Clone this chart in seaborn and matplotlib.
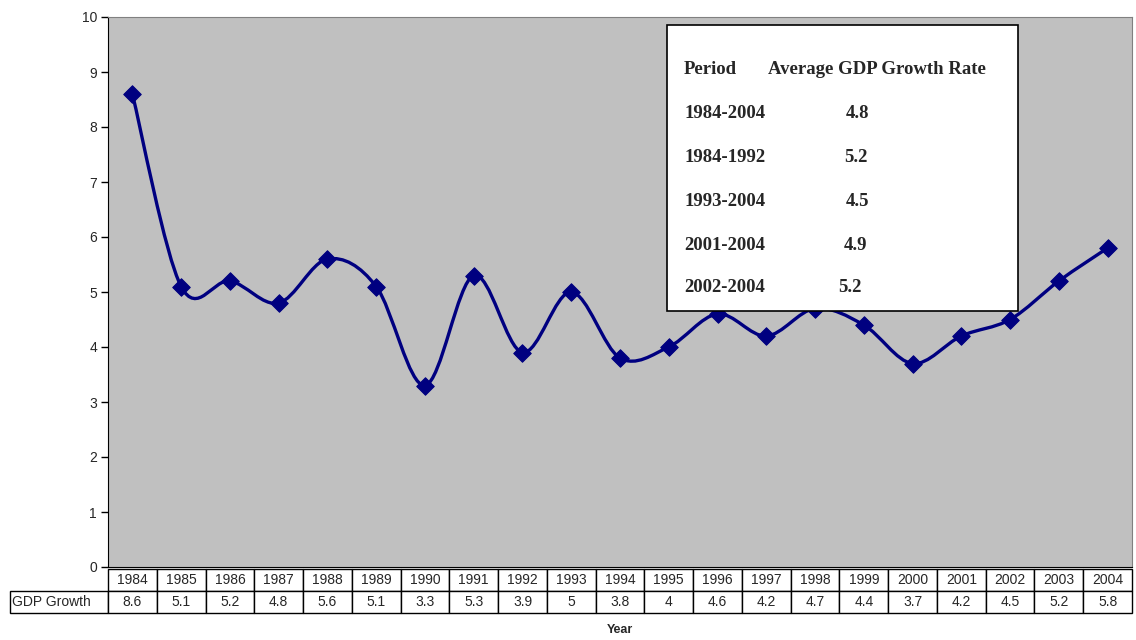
import numpy as np
import pandas as pd
import matplotlib
matplotlib.use("Agg")
import matplotlib.pyplot as plt
import seaborn as sns
from matplotlib.path import Path
from matplotlib.patches import PathPatch, Rectangle

# Data
years = [str(y) for y in range(1984, 2005)]
growth = [8.6, 5.1, 5.2, 4.8, 5.6, 5.1, 3.3, 5.3, 3.9, 5.0, 3.8,
          4.0, 4.6, 4.2, 4.7, 4.4, 3.7, 4.2, 4.5, 5.2, 5.8]
growth_labels = ['8.6', '5.1', '5.2', '4.8', '5.6', '5.1', '3.3', '5.3', '3.9', '5',
                 '3.8', '4', '4.6', '4.2', '4.7', '4.4', '3.7', '4.2', '4.5', '5.2', '5.8']
periods = ['1984-2004', '1984-1992', '1993-2004', '2001-2004', '2002-2004']
period_avg = ['4.8', '5.2', '4.5', '4.9', '5.2']

df = pd.DataFrame({'pos': range(len(years)), 'Year': years, 'GDP Growth': growth})

sns.set_style("white")
plt.rcParams['font.family'] = ['Liberation Sans', 'DejaVu Sans']

fig = plt.figure(figsize=(11.36, 6.4), dpi=100)
ax = fig.add_axes([108/1136, 1 - 567/640, 1024/1136, 550/640])
ax.set_facecolor('#C0C0C0')

# smoothed line (Excel-style bezier through the points)
x = df['pos'].to_numpy(dtype=float)
y = df['GDP Growth'].to_numpy(dtype=float)
verts = [(x[0], y[0])]
codes = [Path.MOVETO]
n = len(x)
for i in range(n - 1):
    x0, y0 = (x[i - 1], y[i - 1]) if i > 0 else (x[i], y[i])
    x3, y3 = (x[i + 2], y[i + 2]) if i + 2 < n else (x[i + 1], y[i + 1])
    c1 = (x[i] + (x[i + 1] - x0) / 6, y[i] + (y[i + 1] - y0) / 6)
    c2 = (x[i + 1] - (x3 - x[i]) / 6, y[i + 1] - (y3 - y[i]) / 6)
    verts += [c1, c2, (x[i + 1], y[i + 1])]
    codes += [Path.CURVE4] * 3
ax.add_patch(PathPatch(Path(verts, codes), facecolor='none', edgecolor='#000080',
                       lw=2.4, zorder=2))

sns.scatterplot(data=df, x='pos', y='GDP Growth', marker='D', s=80, color='#000080',
                edgecolor='#000080', ax=ax, zorder=3, legend=False)

ax.set_xlim(-0.5, len(years) - 0.5)
ax.set_ylim(0, 10)
ax.set_yticks(range(0, 11))
ax.set_xticks([])
ax.set_xlabel('')
ax.set_ylabel('')
ax.tick_params(axis='y', left=True, length=5, width=1, labelsize=10, pad=3, color='black')
for s in ['top', 'right']:
    ax.spines[s].set_color('#808080')
ax.spines['left'].set_color('black')
ax.spines['bottom'].set_color('black')

# data table below the axis
cell_text = [[''] + years, ['GDP Growth'] + growth_labels]
first_w = 98 / 1024
tbl = ax.table(cellText=cell_text, cellLoc='center',
               colWidths=[first_w] + [1 / len(years)] * len(years),
               bbox=[-first_w, -46 / 550, 1 + first_w, 44 / 550])
tbl.auto_set_font_size(False)
tbl.set_fontsize(10)
for (r, c), cell in tbl.get_celld().items():
    cell.set_linewidth(1)
    cell.set_edgecolor('black')
    if r == 0 and c == 0:
        cell.visible_edges = ''
    if r == 1 and c == 0:
        cell.set_text_props(ha='left')
        cell.PAD = 0.02

ax.text(0.5, -63 / 550, 'Year', transform=ax.transAxes, ha='center', va='center',
        fontsize=9, fontweight='bold')


def ay(py):
    # figure pixel row -> axes fraction
    return (567 - py) / 550


def axx(px):
    return (px - 108) / 1024


# inset box with period averages
ax.add_patch(Rectangle((axx(667), ay(311)), 351 / 1024, 286 / 550,
                       transform=ax.transAxes, facecolor='white', edgecolor='black',
                       lw=1.2, zorder=5))
serif = ['Liberation Serif', 'DejaVu Serif']
fs = 13.5
ax.text(axx(684), ay(70), 'Period', transform=ax.transAxes, family=serif,
        fontsize=fs, fontweight='bold', va='center', zorder=6)
ax.text(axx(768), ay(70), 'Average GDP Growth Rate', transform=ax.transAxes,
        family=serif, fontsize=fs, fontweight='bold', va='center', zorder=6)
row_y = [113, 157, 201, 245, 288]
val_x = [858, 856, 858, 856, 850]
for p, v, ry, vx in zip(periods, period_avg, row_y, val_x):
    ax.text(axx(684), ay(ry), p, transform=ax.transAxes, family=serif,
            fontsize=fs, fontweight='bold', va='center', zorder=6)
    ax.text(axx(vx), ay(ry), v, transform=ax.transAxes, family=serif,
            fontsize=fs, fontweight='bold', va='center', ha='center', zorder=6)

fig.savefig('out.png', dpi=100, facecolor='white')
